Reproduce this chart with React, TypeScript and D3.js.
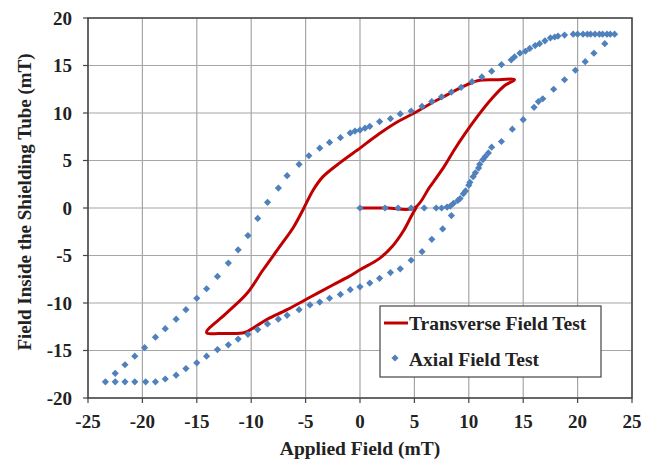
import React from 'react';
import * as d3 from 'd3';

// Transverse field test (red line), traced in order
const transverseX = [0, 2.5, 5.0, 6.4, 7.7, 8.6, 9.7, 10.9, 12.1, 13.3, 14.2, 12.5, 10.8, 9.5, 8.0, 6.5, 5.0, 3.5, 2.0, 0.8, 0, -1.8, -3.4, -4.3, -5.2, -6.1, -7.4, -8.9, -10.4, -12.3, -14.1, -12.5, -10.6, -9.5, -8.5, -6.7, -4.6, -2.5, -1.0, 0, 1.8, 3.0, 4.0, 4.7, 5.2];
const transverseY = [0, 0, 0, 2.2, 4.3, 6.0, 7.9, 9.8, 11.5, 12.9, 13.5, 13.5, 13.4, 12.8, 11.9, 11.0, 10.0, 9.1, 8.0, 7.0, 6.3, 4.8, 3.3, 1.9, -0.1, -2.0, -4.1, -6.5, -9.0, -11.1, -13.1, -13.2, -13.1, -12.4, -11.7, -10.7, -9.4, -8.1, -7.2, -6.5, -5.3, -4.0, -2.4, -0.9, 0.1];

// Axial field test (blue diamonds): virgin curve
const axialInitX = [0, 2.3, 3.5, 4.7, 5.9, 7.0, 7.5, 8.0, 8.3, 8.6, 9.0, 9.2, 9.5, 9.7, 10.0, 10.1, 10.4, 10.6, 10.9, 11.0, 11.3, 11.5, 11.8];
const axialInitY = [0, 0, 0, 0, 0, 0, 0, 0.1, 0.2, 0.5, 0.8, 1.0, 1.5, 1.8, 2.4, 2.7, 3.3, 3.7, 4.2, 4.6, 5.1, 5.4, 5.8];

// Axial: descending branch (top right to bottom left)
const axialDownX = [23.4, 23.0, 22.7, 22.3, 22.0, 21.6, 21.2, 20.9, 20.5, 20.0, 19.6, 18.8, 18.2, 17.9, 17.5, 17.0, 16.5, 16.1, 15.6, 15.2, 14.7, 14.2, 13.9, 13.0, 12.1, 11.2, 10.3, 9.3, 8.4, 7.5, 6.6, 5.7, 4.7, 3.7, 2.8, 1.8, 0.9, 0.46, 0, -0.46, -0.9, -1.8, -2.8, -3.7, -4.7, -5.6, -6.7, -7.5, -8.5, -9.4, -10.3, -11.2, -12.1, -13.1, -14.1, -15.0, -16.0, -16.9, -17.9, -18.8, -19.8, -20.7, -21.6, -22.5, -23.4];
const axialDownY = [18.3, 18.3, 18.3, 18.3, 18.3, 18.3, 18.3, 18.3, 18.3, 18.3, 18.3, 18.2, 18.1, 18.0, 17.9, 17.6, 17.3, 17.1, 16.8, 16.5, 16.3, 15.9, 15.6, 15.1, 14.4, 13.8, 13.3, 12.7, 12.2, 11.7, 11.2, 10.7, 10.2, 9.9, 9.4, 9.1, 8.6, 8.4, 8.2, 8.1, 7.9, 7.4, 6.9, 6.3, 5.5, 4.6, 3.4, 2.1, 0.6, -1.1, -2.9, -4.4, -5.8, -7.2, -8.5, -9.5, -10.7, -11.7, -12.7, -13.6, -14.7, -15.6, -16.5, -17.4, -18.3];

// Axial: ascending branch (bottom left to top right)
const axialUpX = [-22.5, -21.6, -20.7, -19.7, -18.8, -17.9, -16.9, -16.0, -15.0, -14.1, -13.1, -12.1, -11.2, -10.3, -9.4, -8.5, -7.5, -6.7, -5.6, -4.6, -3.7, -2.8, -1.8, -0.9, 0, 0.9, 1.8, 2.8, 3.7, 4.7, 5.7, 6.6, 7.6, 8.4, 12.1, 13.0, 14.0, 15.0, 16.0, 16.4, 16.8, 17.8, 18.8, 19.8, 20.7, 21.5, 22.5];
const axialUpY = [-18.3, -18.3, -18.3, -18.3, -18.3, -18.0, -17.6, -16.9, -16.3, -15.6, -14.9, -14.4, -13.8, -13.3, -12.8, -12.2, -11.7, -11.3, -10.7, -10.2, -9.9, -9.5, -9.1, -8.6, -8.3, -7.9, -7.4, -6.8, -6.4, -5.5, -4.6, -3.3, -2.2, -0.8, 6.4, 7.0, 8.3, 9.3, 10.6, 11.2, 11.5, 12.5, 13.5, 14.5, 15.4, 16.3, 17.3];

const xTicks = [-25, -20, -15, -10, -5, 0, 5, 10, 15, 20, 25];
const yTicks = [-20, -15, -10, -5, 0, 5, 10, 15, 20];

const FONT = '"Liberation Serif", "Times New Roman", serif';
const RED = '#c00000';
const BLUE = '#4f81bd';

export default function App() {
  const width = 645;
  const height = 461;
  const plot = { left: 88, right: 632, top: 18, bottom: 398 };

  const x = d3.scaleLinear().domain([-25, 25]).range([plot.left, plot.right]);
  const y = d3.scaleLinear().domain([-20, 20]).range([plot.bottom, plot.top]);

  const transverse = transverseX.map((v, i) => [v, transverseY[i]] as [number, number]);
  const axial = [
    ...axialInitX.map((v, i) => [v, axialInitY[i]]),
    ...axialDownX.map((v, i) => [v, axialDownY[i]]),
    ...axialUpX.map((v, i) => [v, axialUpY[i]]),
  ] as [number, number][];

  const line = d3.line<[number, number]>()
    .x(d => x(d[0]))
    .y(d => y(d[1]))
    .curve(d3.curveCatmullRom.alpha(0.5));

  const diamond = d3.symbol(d3.symbolSquare, 26)();

  return (
    <svg width={width} height={height} style={{ position: 'absolute', left: 0, top: 0, background: '#fff' }}>
      <defs>
        <clipPath id="plotClip">
          <rect x={plot.left} y={plot.top} width={plot.right - plot.left} height={plot.bottom - plot.top} />
        </clipPath>
      </defs>

      {/* grid */}
      {xTicks.map(t => (
        <line key={'gx' + t} x1={x(t)} x2={x(t)} y1={plot.top} y2={plot.bottom} stroke="#a6a6a6" strokeWidth={1.2} />
      ))}
      {yTicks.map(t => (
        <line key={'gy' + t} x1={plot.left} x2={plot.right} y1={y(t)} y2={y(t)} stroke="#a6a6a6" strokeWidth={1.2} />
      ))}
      <rect x={plot.left} y={plot.top} width={plot.right - plot.left} height={plot.bottom - plot.top}
        fill="none" stroke="#444" strokeWidth={1.5} />

      {/* tick marks */}
      {xTicks.map(t => (
        <line key={'tx' + t} x1={x(t)} x2={x(t)} y1={plot.bottom} y2={plot.bottom + 5} stroke="#444" strokeWidth={1.2} />
      ))}
      {yTicks.map(t => (
        <line key={'ty' + t} x1={plot.left - 5} x2={plot.left} y1={y(t)} y2={y(t)} stroke="#444" strokeWidth={1.2} />
      ))}

      {/* series */}
      <g clipPath="url(#plotClip)">
        <path d={line(transverse) || ''} fill="none" stroke={RED} strokeWidth={3} strokeLinejoin="round" />
        {axial.map((d, i) => (
          <path key={'a' + i} d={diamond} transform={`translate(${x(d[0])},${y(d[1])}) rotate(45)`} fill={BLUE} />
        ))}
      </g>

      {/* tick labels */}
      {xTicks.map(t => (
        <text key={'lx' + t} x={x(t)} y={428} textAnchor="middle" fontFamily={FONT} fontWeight="bold" fontSize={19} fill="#222">{t}</text>
      ))}
      {yTicks.map(t => (
        <text key={'ly' + t} x={72} y={y(t) + 6.5} textAnchor="end" fontFamily={FONT} fontWeight="bold" fontSize={19} fill="#222">{t}</text>
      ))}

      {/* axis titles */}
      <text x={360} y={455} textAnchor="middle" fontFamily={FONT} fontWeight="bold" fontSize={19.5} fill="#222">Applied Field (mT)</text>
      <text transform={`translate(31,${(plot.top + plot.bottom) / 2 - 6}) rotate(-90)`} textAnchor="middle" fontFamily={FONT} fontWeight="bold" fontSize={19} fill="#222">Field Inside the Shielding Tube (mT)</text>

      {/* legend */}
      <g>
        <rect x={380} y={306} width={221} height={71} fill="#fff" stroke="#444" strokeWidth={1.2} />
        <line x1={384} x2={408} y1={323} y2={323} stroke={RED} strokeWidth={3} />
        <text x={409} y={330} fontFamily={FONT} fontWeight="bold" fontSize={19.5} fill="#222">Transverse Field Test</text>
        <path d={diamond} transform="translate(395,358) rotate(45)" fill={BLUE} />
        <text x={409} y={366} fontFamily={FONT} fontWeight="bold" fontSize={19.5} fill="#222">Axial Field Test</text>
      </g>
    </svg>
  );
}
